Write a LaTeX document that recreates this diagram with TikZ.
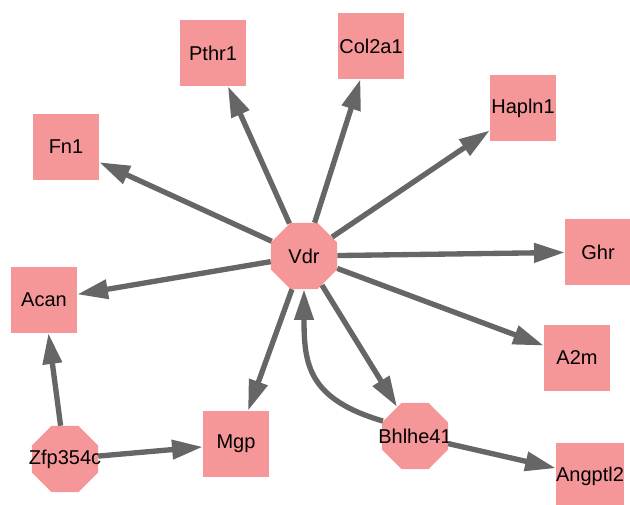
\documentclass[tikz,border=0pt]{standalone}
\usepackage{fontspec}
\setmainfont{Liberation Sans}
\usetikzlibrary{arrows.meta,shapes.geometric}
\definecolor{genepink}{RGB}{245,151,152}
\definecolor{edgegray}{RGB}{102,102,102}
\tikzset{
  gene/.style={fill=genepink, draw=none, minimum size=49.5pt, inner sep=0pt, font=\fontsize{15}{18}\selectfont},
  tf/.style={gene, regular polygon, regular polygon sides=8, minimum size=53.6pt},
  reg/.style={draw=edgegray, line width=4pt, -{Triangle[length=23pt,width=14pt]}},
}
\begin{document}
\begin{tikzpicture}[x=0.75pt,y=0.75pt,yscale=-1,xscale=1]
\useasboundingbox (0,0) rectangle (630,505);

%Shape: Octagon (transcription factors), label may run past the border
\node [tf] (vdr) at (304,256) {\makebox[0pt]{Vdr}};
\node [tf] (bhl) at (415,436) {\makebox[0pt]{Bhlhe41}};
\node [tf] (zfp) at (65,459) {\makebox[0pt]{Zfp354c}};

%Shape: Square (targets)
\node [gene] (pthr) at (213,53) {Pthr1};
\node [gene] (col) at (371,46) {Col2a1};
\node [gene] (hap) at (523,108) {Hapln1};
\node [gene] (fn) at (66,147) {Fn1};
\node [gene] (ghr) at (598,252) {Ghr};
\node [gene] (acan) at (44,300) {Acan};
\node [gene] (a2m) at (577,358) {A2m};
\node [gene] (mgp) at (236,444) {Mgp};
\node [gene] (ang) at (590,476) {Angptl2};

%Straight Lines: Vdr targets
\foreach \t in {pthr,col,hap,fn,ghr,acan,a2m,mgp,bhl}
  \draw [reg] (vdr) -- (\t);

%Straight Lines: other regulators
\draw [reg] (zfp) -- (acan);
\draw [reg] (zfp) -- (mgp);
\draw [reg] (bhl) -- (ang);

%Curve Lines: feedback to Vdr
\draw [reg] (bhl.155) .. controls +(-75,-22) and +(0,75) .. (vdr.south);

\end{tikzpicture}
\end{document}
